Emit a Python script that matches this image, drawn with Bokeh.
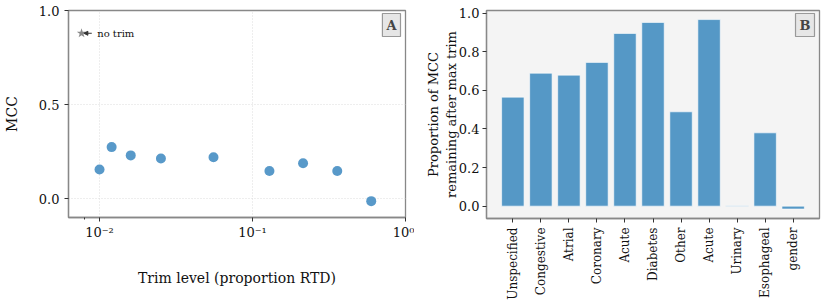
from bokeh.plotting import figure
from bokeh.layouts import row
from bokeh.models import (Range1d, FixedTicker, CustomJSTickFormatter, Label, Arrow,
                          NormalHead, NumeralTickFormatter, ColumnDataSource)
from bokeh.embed import file_html
from bokeh.resources import INLINE
import math

# ---- data panel A ----
trim_levels = [0.0100, 0.0120, 0.0160, 0.0252, 0.0556, 0.129, 0.214, 0.358, 0.597]
mcc_values = [0.155, 0.274, 0.230, 0.214, 0.220, 0.147, 0.188, 0.147, -0.013]
no_trim_x = [0.00763]
no_trim_mcc = [0.879]

# ---- data panel B ----
categories = ["Unspecified", "Congestive", "Atrial", "Coronary", "Acute", "Diabetes",
              "Other", "Acute", "Urinary", "Esophageal", "gender"]
proportions = [0.565, 0.689, 0.679, 0.745, 0.895, 0.952, 0.489, 0.967, 0.002, 0.380, -0.015]

FONT = "DejaVu Serif"
BLUE = "#5598c6"
FRAME = "#888888"


def style(p):
    p.outline_line_color = FRAME
    p.outline_line_width = 1.3
    for ax in (p.xaxis, p.yaxis):
        ax.axis_line_color = FRAME
        ax.axis_line_width = 1.3
        ax.major_tick_line_color = "#333333"
        ax.minor_tick_line_color = "#333333"
        ax.major_tick_out = 4
        ax.major_tick_in = 0
        ax.minor_tick_out = 2
        ax.minor_tick_in = 0
        ax.major_label_text_font = FONT
        ax.major_label_text_font_size = "13px"
        ax.major_label_text_color = "#111111"
        ax.axis_label_text_font = FONT
        ax.axis_label_text_font_size = "14px"
        ax.axis_label_text_font_style = "normal"
        ax.axis_label_text_color = "#111111"


# ---------------- Panel A ----------------
p1 = figure(x_axis_type="log", frame_width=337, frame_height=207,
            x_range=Range1d(0.00627, 1.0), y_range=Range1d(-0.1, 1.0),
            output_backend="svg", toolbar_location=None,
            min_border_left=61, min_border_right=9, min_border_top=10, min_border_bottom=75)
style(p1)
p1.background_fill_color = "white"
p1.xaxis.ticker = FixedTicker(ticks=[0.01, 0.1, 1.0], minor_ticks=[0.008])
p1.xaxis.formatter = CustomJSTickFormatter(code="""
const e = Math.round(Math.log10(tick));
const sup = {"-":"\u207b","0":"\u2070","1":"\u00b9","2":"\u00b2","3":"\u00b3"};
return "10" + String(e).split("").map(c => sup[c]).join("");
""")
p1.yaxis.ticker = FixedTicker(ticks=[0.0, 0.5, 1.0], minor_ticks=[])
p1.yaxis.formatter = NumeralTickFormatter(format="0.0")
p1.xaxis.major_label_standoff = 3
p1.yaxis.major_label_standoff = 5
p1.xaxis.axis_label = "Trim level (proportion RTD)"
p1.yaxis.axis_label = "MCC"
p1.xaxis.axis_label_standoff = 27
p1.yaxis.axis_label_standoff = 16
for g in (p1.xgrid, p1.ygrid):
    g.grid_line_color = "#dddddd"
    g.grid_line_dash = "1 2"
    g.grid_line_width = 1

p1.scatter(trim_levels, mcc_values, size=10, color="#4f93c6", alpha=0.95, line_color=None)
p1.scatter(no_trim_x, no_trim_mcc, marker="star", size=10, color="#888888", line_color=None)
p1.add_layout(Arrow(end=NormalHead(size=4, fill_color="#333333", line_color="#333333"),
                    x_start=0.00890, y_start=no_trim_mcc[0], x_end=0.00790, y_end=no_trim_mcc[0],
                    line_color="#333333", line_width=1))
p1.add_layout(Label(x=0.00966, y=no_trim_mcc[0], text="no trim", text_font=FONT,
                    text_font_size="10px", text_baseline="middle", text_color="#111111"))
p1.add_layout(Label(x=1.0, y=1.0, text="A", text_font=FONT, text_font_size="13px",
                    text_font_style="bold", text_align="right", text_baseline="top",
                    x_offset=-5, y_offset=-3, padding=4,
                    background_fill_color="#e6e6e6", border_line_color="#999999",
                    border_line_width=1.2))

# ---------------- Panel B ----------------
xs = list(range(len(categories)))
p2 = figure(frame_width=333, frame_height=208,
            x_range=Range1d(-0.94, 10.94), y_range=Range1d(-0.064, 1.014),
            output_backend="svg", toolbar_location=None,
            min_border_left=72, min_border_right=2, min_border_top=10, min_border_bottom=74)
style(p2)
p2.background_fill_color = "#f4f4f4"
p2.xgrid.grid_line_color = None
p2.ygrid.grid_line_color = None
p2.xaxis.ticker = FixedTicker(ticks=xs, minor_ticks=[])
p2.xaxis.major_label_overrides = {i: c for i, c in enumerate(categories)}
p2.xaxis.major_label_orientation = math.pi / 2
p2.xaxis.major_label_standoff = 5
p2.xaxis.major_label_text_font_size = "12px"
p2.yaxis.ticker = FixedTicker(ticks=[0.0, 0.2, 0.4, 0.6, 0.8, 1.0], minor_ticks=[])
p2.yaxis.formatter = NumeralTickFormatter(format="0.0")
p2.yaxis.major_label_standoff = 3
p2.yaxis.axis_label = "Proportion of MCC\nremaining after max trim"
p2.yaxis.axis_label_text_font_size = "13px"
p2.yaxis.axis_label_standoff = -3

src = ColumnDataSource(dict(x=xs, top=proportions))
p2.vbar(x="x", top="top", bottom=0, width=0.8, source=src, fill_color=BLUE,
        line_color="white", line_alpha=0.6, line_width=1)
p2.add_layout(Label(x=10.94, y=1.014, text="B", text_font=FONT, text_font_size="13px",
                    text_font_style="bold", text_align="right", text_baseline="top",
                    x_offset=-5, y_offset=-3, padding=4,
                    background_fill_color="#e6e6e6", border_line_color="#999999",
                    border_line_width=1.2))

layout = row(p1, p2)
open("out.html", "w").write(file_html(layout, INLINE))
